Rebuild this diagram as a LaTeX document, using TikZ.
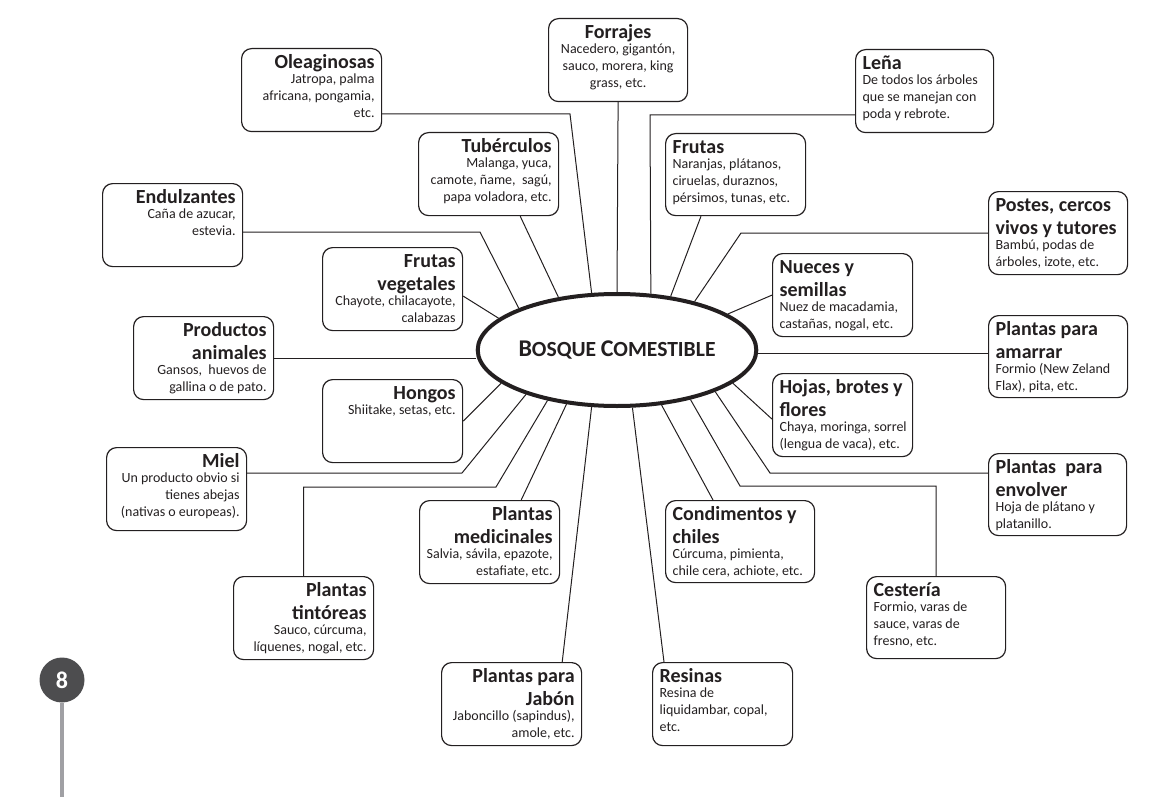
\documentclass[tikz,border=0pt]{standalone}
\usepackage{fontspec}
\setmainfont{Carlito}
\usetikzlibrary{shapes.geometric,calc}
\definecolor{tinta}{HTML}{231F20}
\definecolor{grisnum}{HTML}{4D4D4F}
\definecolor{grislinea}{HTML}{A0A0A4}
\newcommand{\titulo}{\normalfont\fontsize{10}{11.5}\selectfont\bfseries}
\newcommand{\cuerpo}{\normalfont\fontsize{7}{8.5}\selectfont}
\newcommand{\versal}[2]{{\fontsize{12}{13}\selectfont #1}{\fontsize{10.8}{13}\selectfont #2}}
% ancho, alto, alineacion, titulo, texto
\newcommand{\ficha}[5]{\parbox[c][#2][t]{#1}{#3\rule{0pt}{7pt}\titulo #4\par\vspace{-1pt}\cuerpo #5\par}}
\begin{document}
\begin{tikzpicture}[x=0.5pt,y=-0.5pt,
    caja/.style={draw=tinta,line width=0.6pt,rounded corners=5pt,inner xsep=3.5pt,inner ysep=3pt,anchor=north west,text=tinta},
    rama/.style={draw=tinta,line width=0.5pt},
    centro/.style={ellipse,draw=tinta,fill=white,line width=2pt,minimum width=115pt,minimum height=56pt,inner sep=0pt,text=tinta}]
      \useasboundingbox (0,0) rectangle (1172,797);
      % lado izquierdo
      \node[caja] (olea) at (241,48) {\ficha{63pt}{35.5pt}{\raggedleft}{Oleaginosas}{Jatropa, palma\\africana, pongamia,\\etc.}};
      \node[caja] (tube) at (418,132) {\ficha{63pt}{35.5pt}{\raggedleft}{Tubérculos}{Malanga, yuca,\\camote, ñame,\ \ sagú,\\papa voladora, etc.}};
      \node[caja] (endu) at (102,183) {\ficha{63pt}{35.5pt}{\raggedleft}{Endulzantes}{Caña de azucar,\\estevia.}};
      \node[caja] (fveg) at (322,247) {\ficha{63pt}{35.5pt}{\raggedleft}{Frutas\\vegetales}{Chayote, chilacayote,\\calabazas}};
      \node[caja] (prod) at (133,316) {\ficha{63pt}{35.5pt}{\raggedleft}{Productos\\animales}{Gansos,\ \ huevos de\\gallina o de pato.}};
      \node[caja] (hong) at (322,379) {\ficha{63pt}{35.5pt}{\raggedleft}{Hongos}{Shiitake, setas, etc.}};
      \node[caja] (miel) at (106,447) {\ficha{63pt}{35.5pt}{\raggedleft}{Miel}{Un producto obvio si\\tienes abejas\\(nativas o europeas).}};
      \node[caja] (medi) at (419,500) {\ficha{63pt}{35.5pt}{\raggedleft}{Plantas\\medicinales}{Salvia, sávila, epazote,\\estafiate, etc.}};
      \node[caja] (tint) at (233,576) {\ficha{63pt}{35.5pt}{\raggedleft}{Plantas\\tintóreas}{Sauco, cúrcuma,\\líquenes, nogal, etc.}};
      \node[caja] (jabo) at (441,662) {\ficha{63pt}{35.5pt}{\raggedleft}{Plantas para\\Jabón}{Jaboncillo (sapindus),\\amole, etc.}};
      % arriba
      \node[caja] (forr) at (548,18) {\ficha{62.5pt}{35.5pt}{\centering}{Forrajes}{Nacedero, gigantón,\\sauco, morera, king\\grass, etc.}};
      % lado derecho
      \node[caja] (lena) at (855,49) {\ficha{62pt}{35.5pt}{\raggedright}{Leña}{De todos los árboles\\que se manejan con\\poda y rebrote.}};
      \node[caja] (frut) at (665,133) {\ficha{63pt}{35pt}{\raggedright}{Frutas}{Naranjas, plátanos,\\ciruelas, duraznos,\\pérsimos, tunas, etc.}};
      \node[caja] (post) at (988,191) {\ficha{62.5pt}{35.5pt}{\raggedright}{Postes, cercos\\vivos y tutores}{Bambú, podas de\\árboles, izote, etc.}};
      \node[caja] (nuec) at (772,253) {\ficha{63pt}{35.5pt}{\raggedright}{Nueces y\\semillas}{Nuez de macadamia,\\castañas, nogal, etc.}};
      \node[caja] (amar) at (988,315) {\ficha{62.5pt}{35pt}{\raggedright}{Plantas para\\amarrar}{Formio (New Zeland\\Flax), pita, etc.}};
      \node[caja] (hoja) at (772,373) {\ficha{63pt}{35.5pt}{\raggedright}{Hojas, brotes y\\flores}{\mbox{Chaya, moringa, sorrel}\\(lengua de vaca), etc.}};
      \node[caja] (envo) at (988,453) {\ficha{62pt}{35pt}{\raggedright}{Plantas\ \ para\\envolver}{Hoja de plátano y\\platanillo.}};
      \node[caja] (cond) at (665,500) {\ficha{67.5pt}{35pt}{\raggedright}{Condimentos y\\chiles}{Cúrcuma, pimienta,\\chile cera, achiote, etc.}};
      \node[caja] (cest) at (866,576) {\ficha{62.5pt}{35pt}{\raggedright}{Cestería}{Formio, varas de\\sauce, varas de\\fresno, etc.}};
      \node[caja] (resi) at (652,662) {\ficha{63pt}{35.5pt}{\raggedright}{Resinas}{Resina de\\liquidambar, copal,\\etc.}};
      % centro
      \node[centro] (bosque) at (617,350) {\bfseries\versal{B}{OSQUE} \versal{C}{OMESTIBLE}};
      % ramas
      \coordinate (k-olea) at (570,114);
      \draw[rama] (olea.east |- k-olea) -- (k-olea) -- (bosque.114);
      \draw[rama] ($(tube.south east)+(-39,0)$) -- (bosque.138);
      \coordinate (k-endu) at (480,232);
      \draw[rama] (endu.east |- k-endu) -- (k-endu) -- (bosque.157);
      \draw[rama] ([yshift=-3.5pt]fveg.east) -- (bosque.165);
      \draw[rama] (prod.east) -- (prod.east -| bosque.west);
      \draw[rama] (hong.east) -- (bosque.196);
      \coordinate (k-miel) at (462,473);
      \draw[rama] (miel.east |- k-miel) -- (k-miel) -- (bosque.206);
      \coordinate (k-tint) at (496,487);
      \draw[rama] (tint.north) |- (k-tint) -- (bosque.216);
      \draw[rama] ($(medi.north east)+(-39,0)$) -- (bosque.227);
      \draw[rama] ($(jabo.north east)+(-20,0)$) -- (bosque.246);
      \draw[rama] (forr.south) -- (bosque.north);
      \coordinate (k-lena) at (650,115);
      \draw[rama] (lena.west |- k-lena) -- (k-lena) -- (bosque.59);
      \draw[rama] ($(frut.south west)+(36,0)$) -- (bosque.45);
      \coordinate (k-post) at (741,233);
      \draw[rama] (post.west |- k-post) -- (k-post) -- (bosque.32);
      \draw[rama] (nuec.west) -- (bosque.18);
      \draw[rama] ([yshift=1.5pt]amar.west) -- ([yshift=1.5pt]amar.west -| bosque.east);
      \draw[rama] ([yshift=-2pt]hoja.west) -- (bosque.344);
      \coordinate (k-envo) at (770,473);
      \draw[rama] (envo.west |- k-envo) -- (k-envo) -- (bosque.337);
      \coordinate (k-cest) at (740,486);
      \draw[rama] (cest.north) |- (k-cest) -- (bosque.326);
      \draw[rama] ($(cond.north west)+(48,0)$) -- (bosque.309);
      \draw[rama] ($(resi.north west)+(12,0)$) -- (bosque.285);
      % numero de pagina
      \node[circle,fill=grisnum,minimum size=22.5pt,inner sep=0pt,text=white,font=\fontsize{12}{12}\selectfont\bfseries] (pagina) at (62,680) {8};
      \coordinate (pie) at (62,797);
      \draw[grislinea,line width=2pt] (pagina.south) -- (pie);
    \end{tikzpicture}
\end{document}
